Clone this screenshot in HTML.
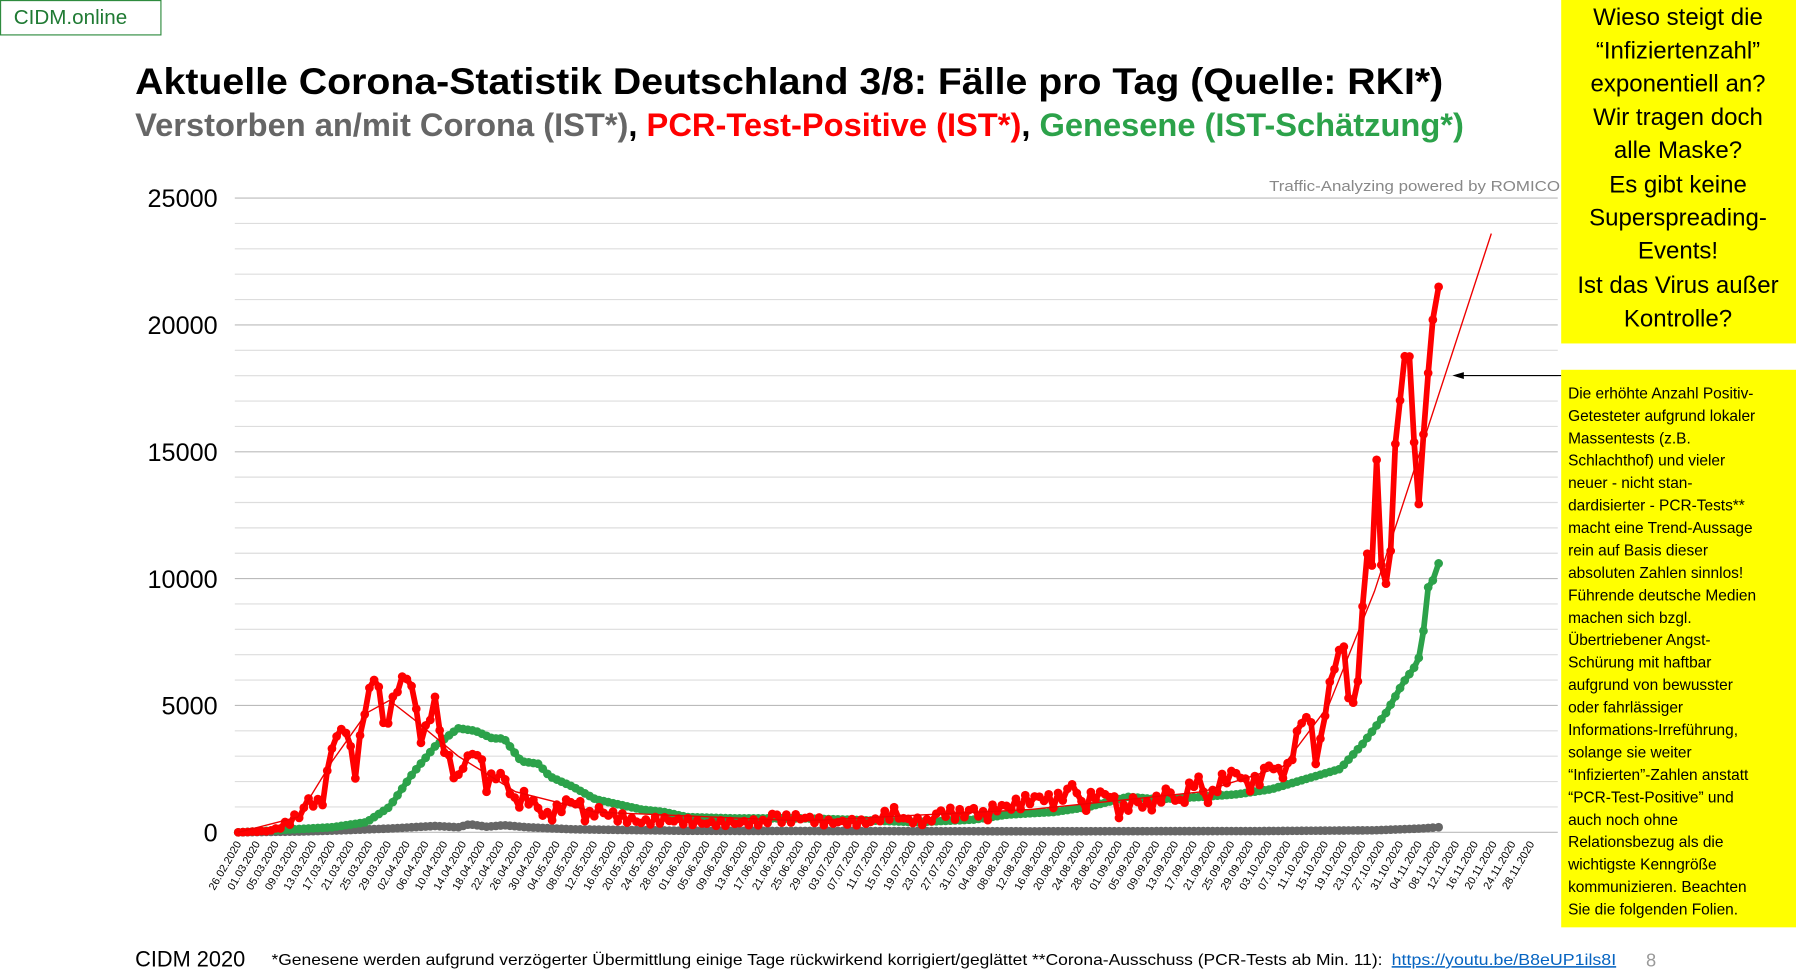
<!DOCTYPE html>
<html><head><meta charset="utf-8"><style>html,body{margin:0;padding:0;background:#fff}svg{display:block}</style></head>
<body>
<svg id="s" xmlns="http://www.w3.org/2000/svg" width="1796" height="980" viewBox="0 0 1568 856" preserveAspectRatio="none" font-family="Liberation Sans, sans-serif">
<rect width="1568" height="856" fill="#fff"/>
<rect x="0.5" y="0.5" width="140" height="30" fill="#fff" stroke="#2e8b3e"/>
<text x="12" y="21" font-size="18" fill="#1f7a33">CIDM.online</text>
<text x="118" y="82" font-size="32" font-weight="bold" fill="#000" textLength="1142" lengthAdjust="spacingAndGlyphs">Aktuelle Corona-Statistik Deutschland 3/8: Fälle pro Tag (Quelle: RKI*)</text>
<text x="118" y="119" font-size="28" font-weight="bold" textLength="1160" lengthAdjust="spacingAndGlyphs"><tspan fill="#666">Verstorben an/mit Corona (IST*)</tspan><tspan fill="#000">, </tspan><tspan fill="#f00">PCR-Test-Positive (IST*)</tspan><tspan fill="#000">, </tspan><tspan fill="#2ca24a">Genesene (IST-Schätzung*)</tspan></text>
<text x="1108" y="167" font-size="13" fill="#888" textLength="254" lengthAdjust="spacingAndGlyphs">Traffic-Analyzing powered by ROMICO</text>
<g id="grid"></g>
<g id="ylab" font-size="22" fill="#000" text-anchor="end"></g>
<g id="xlab" font-size="9.5" fill="#000" text-anchor="end"></g>
<g id="series"></g>
<line x1="1363" y1="328" x2="1276" y2="328" stroke="#000" stroke-width="1"/>
<polygon points="1268,328 1278,325 1278,331" fill="#000"/>
<rect x="1363" y="0" width="205" height="300" fill="#ffff00"/>
<g font-size="21" text-anchor="middle" fill="#000">
<text x="1465" y="22">Wieso steigt die</text>
<text x="1465" y="51">“Infiziertenzahl”</text>
<text x="1465" y="80">exponentiell an?</text>
<text x="1465" y="109">Wir tragen doch</text>
<text x="1465" y="138">alle Maske?</text>
<text x="1465" y="168">Es gibt keine</text>
<text x="1465" y="197">Superspreading-</text>
<text x="1465" y="226">Events!</text>
<text x="1465" y="256">Ist das Virus außer</text>
<text x="1465" y="285">Kontrolle?</text>
</g>
<rect x="1363" y="323" width="205" height="487" fill="#ffff00"/>
<g id="box2" font-size="13.5" fill="#000"></g>
<text x="118" y="844" font-size="19" fill="#000">CIDM 2020</text>
<text x="237" y="843" font-size="13.5" fill="#000" textLength="970" lengthAdjust="spacingAndGlyphs">*Genesene werden aufgrund verzögerter Übermittlung einige Tage rückwirkend korrigiert/geglättet   **Corona-Ausschuss (PCR-Tests ab  Min. 11):</text>
<text x="1215" y="843" font-size="13.5" fill="#0563c1" text-decoration="underline" textLength="196" lengthAdjust="spacingAndGlyphs">https://youtu.be/B8eUP1ils8I</text>
<text x="1437" y="844" font-size="16" fill="#999">8</text>
</svg>
<script>
const NS="http://www.w3.org/2000/svg";
function el(p,t,a,txt){const e=document.createElementNS(NS,t);for(const k in a)e.setAttribute(k,a[k]);if(txt!==undefined)e.textContent=txt;document.getElementById(p).appendChild(e);return e;}
const y0=727,pp=(727-173)/25000;
const Y=v=>y0-v*pp;
for(let v=0;v<=25000;v+=1000){const maj=v%5000==0;el("grid","line",{x1:205,x2:1360,y1:Y(v),y2:Y(v),stroke:maj?"#bbb":"#ddd","stroke-width":1});
 if(maj)el("ylab","text",{x:190,y:Y(v)+8},String(v));}
const start=new Date(2020,1,26);
for(let d=0;d<=276;d+=4){const dt=new Date(start.getTime()+d*86400000+3600000*3);
 const s=String(dt.getDate()).padStart(2,"0")+"."+String(dt.getMonth()+1).padStart(2,"0")+".2020";
 const x=208+d*4.09+3;el("xlab","text",{x:x,y:737,transform:`rotate(-60 ${x} 737)`},s);}
function interp(k,noise){const pts=[];let n=0;for(let x=208;x<=k[k.length-1][0]-2;x+=4.09){let i=0;while(i<k.length-2&&k[i+1][0]<x)i++;const a=k[i],b=k[i+1];let t=(x-a[0])/(b[0]-a[0]);t=Math.max(0,Math.min(1,t));let v=a[1]+(b[1]-a[1])*t;if(noise){v+=Math.sin(n*2.7)*noise*Math.min(1,v/800);}n++;pts.push([x,Math.max(0,v)]);}pts.push(k[k.length-1]);return pts;}
const red=[[208,0],[235,50],[245,200],[262,700],[270,1300],[280,1000],[285,2000],[290,3500],[298,4000],[302,4100],[310,2300],[318,4700],[322,5600],[330,6200],[335,4000],[340,4700],[350,6100],[360,5900],[366,3700],[372,4000],[380,5300],[385,3600],[395,2500],[400,2000],[405,2800],[410,3000],[418,3200],[425,1800],[432,2300],[440,2200],[450,1100],[458,1400],[465,1200],[475,700],[480,600],[495,1200],[505,1200],[512,500],[520,900],[540,600],[560,400],[580,500],[620,350],[670,400],[675,800],[680,500],[700,600],[720,400],[760,400],[780,800],[790,500],[810,400],[820,800],[840,700],[850,900],[860,600],[870,1000],[880,1000],[900,1300],[910,1400],[920,1200],[930,1500],[938,2000],[945,900],[955,1500],[970,1500],[978,700],[990,1300],[1000,1000],[1010,1200],[1020,1700],[1030,1100],[1045,2200],[1055,1200],[1065,2000],[1080,2400],[1090,1800],[1100,2100],[1108,2700],[1118,2300],[1125,2500],[1135,4300],[1143,4700],[1150,2500],[1158,5200],[1165,6500],[1172,7700],[1180,4400],[1188,7000],[1192,11300],[1198,10500],[1202,14700],[1208,8700],[1214,11200],[1218,15000],[1222,17000],[1228,19400],[1232,18200],[1238,12100],[1242,15600],[1246,17300],[1250,20100],[1256,21500]];
const green=[[208,0],[290,200],[320,400],[340,1000],[360,2300],[380,3400],[400,4100],[415,4000],[430,3700],[440,3700],[455,2800],[470,2700],[480,2200],[500,1800],[520,1300],[540,1100],[560,900],[580,800],[600,600],[640,550],[700,550],[740,500],[800,400],[850,500],[880,700],[920,800],[950,1000],[985,1400],[1010,1300],[1050,1400],[1080,1500],[1110,1700],[1140,2100],[1170,2500],[1190,3500],[1210,4700],[1225,5900],[1238,6700],[1243,8000],[1246,9600],[1252,10000],[1256,10600]];
const gray=[[208,0],[260,30],[300,80],[340,150],[380,250],[400,200],[410,320],[425,220],[440,280],[460,200],[500,120],[600,60],[900,40],[1100,50],[1200,80],[1240,150],[1256,200]];
function draw(k,col,w,r,noise){const p=interp(k,noise);el("series","polyline",{points:p.map(q=>q[0].toFixed(1)+","+Y(q[1]).toFixed(1)).join(" "),fill:"none",stroke:col,"stroke-width":w,"stroke-linejoin":"round"});
 p.forEach(q=>el("series","circle",{cx:q[0],cy:Y(q[1]),r:r,fill:col}));}
draw(gray,"#666",5,3.8,0);draw(green,"#2ca24a",5,3.8,0);draw(red,"#f00",5,3.8,250);
const tr=[[208,0],[260,600],[290,2800],[320,4700],[340,5200],[360,4500],[400,3000],[450,1600],[520,800],[700,450],[900,900],[1050,1600],[1120,2600],[1160,5000],[1200,9500],[1302,23600]];
el("series","polyline",{points:tr.map(q=>q[0]+","+Y(q[1])).join(" "),fill:"none",stroke:"#e00","stroke-width":1.2});
const lines=["Die erhöhte Anzahl Positiv-","Getesteter aufgrund lokaler","Massentests (z.B.","Schlachthof) und vieler","neuer - nicht stan-","dardisierter - PCR-Tests**","macht eine Trend-Aussage","rein auf Basis dieser","absoluten Zahlen sinnlos!","Führende deutsche Medien","machen sich bzgl.","Übertriebener Angst-","Schürung mit haftbar","aufgrund von bewusster","oder fahrlässiger","Informations-Irreführung,","solange sie weiter","“Infizierten”-Zahlen anstatt","“PCR-Test-Positive” und","auch noch ohne","Relationsbezug als die","wichtigste Kenngröße","kommunizieren. Beachten","Sie die folgenden Folien."];
lines.forEach((t,i)=>el("box2","text",{x:1369,y:348+i*19.6},t));
</script>
</body></html>
